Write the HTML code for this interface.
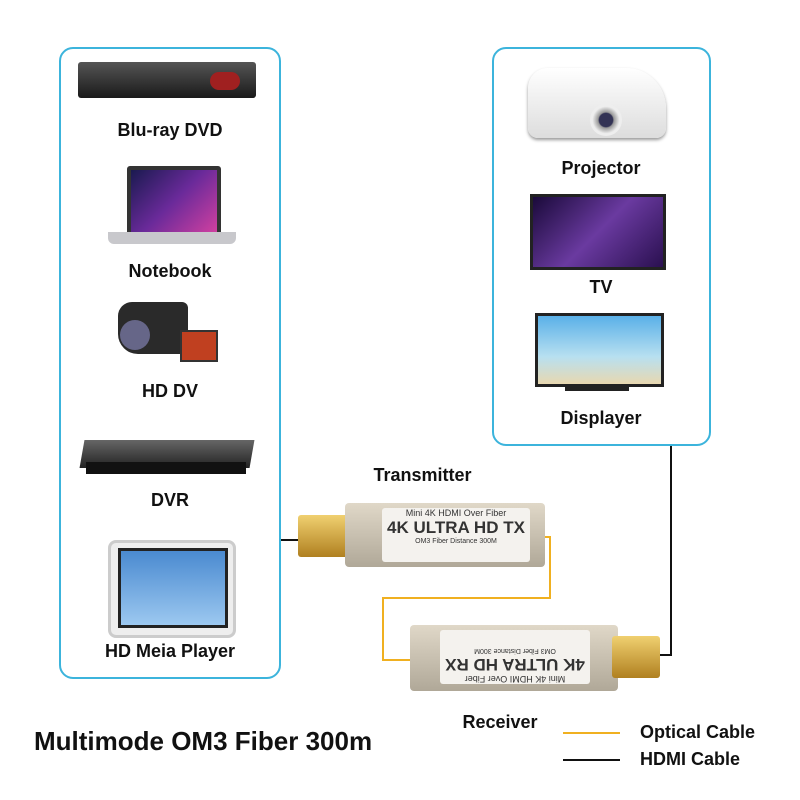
<!DOCTYPE html>
<html><head><meta charset="utf-8"><style>
body{margin:0;width:800px;height:800px;background:#fff;position:relative;overflow:hidden;font-family:"Liberation Sans",sans-serif}
.box{position:absolute;border:2.5px solid #3cb4dc;border-radius:14px;box-sizing:border-box}
.lb{position:absolute;font-size:18px;font-weight:bold;color:#111;text-align:center;white-space:nowrap}
.a{position:absolute}
</style></head><body>
<div class="box" style="left:59px;top:47px;width:222px;height:632px"></div>
<div class="box" style="left:492px;top:47px;width:219px;height:399px"></div>

<div class="a" style="left:78px;top:62px;width:178px;height:36px;background:linear-gradient(#555,#1a1a1a);border-radius:3px"></div>
<div class="a" style="left:210px;top:72px;width:30px;height:18px;background:#a02020;border-radius:9px"></div>
<div class="lb" style="left:60px;width:220px;top:120px">Blu-ray DVD</div>

<div class="a" style="left:127px;top:166px;width:86px;height:62px;background:linear-gradient(135deg,#1a1a50,#6a2a9a,#d040a0);border:4px solid #333;border-radius:3px"></div>
<div class="a" style="left:108px;top:232px;width:128px;height:12px;background:#c8c8cc;border-radius:0 0 6px 6px"></div>
<div class="lb" style="left:60px;width:220px;top:261px">Notebook</div>

<div class="a" style="left:118px;top:302px;width:70px;height:52px;background:#2a2a2a;border-radius:14px 6px 6px 20px"></div>
<div class="a" style="left:120px;top:320px;width:30px;height:30px;background:#668;border-radius:50%"></div>
<div class="a" style="left:180px;top:330px;width:34px;height:28px;background:#c04020;border:2px solid #333"></div>
<div class="lb" style="left:60px;width:220px;top:381px">HD DV</div>

<div class="a" style="left:82px;top:440px;width:170px;height:28px;background:linear-gradient(#666,#222);transform:skewX(-10deg)"></div>
<div class="a" style="left:86px;top:462px;width:160px;height:12px;background:#111"></div>
<div class="lb" style="left:60px;width:220px;top:490px">DVR</div>

<div class="a" style="left:108px;top:540px;width:122px;height:92px;background:#eee;border:3px solid #ccc;border-radius:8px"></div>
<div class="a" style="left:118px;top:548px;width:104px;height:74px;background:linear-gradient(#4a8ad0,#9cc8f0);border:3px solid #222"></div>
<div class="lb" style="left:60px;width:220px;top:641px">HD Meia Player</div>

<div class="a" style="left:528px;top:68px;width:138px;height:70px;background:linear-gradient(#fff,#ddd);border-radius:20px 40px 10px 10px;box-shadow:0 2px 3px #999"></div>
<div class="a" style="left:590px;top:104px;width:32px;height:32px;background:radial-gradient(#335 30%,#999 35%,#eee 60%);border-radius:50%"></div>
<div class="lb" style="left:493px;width:216px;top:158px">Projector</div>

<div class="a" style="left:530px;top:194px;width:130px;height:70px;background:linear-gradient(135deg,#1a0a3a,#6a3aa0,#2a1050);border:3px solid #222"></div>
<div class="lb" style="left:493px;width:216px;top:277px">TV</div>

<div class="a" style="left:535px;top:313px;width:123px;height:68px;background:linear-gradient(#5ab0e8,#b8e0f0 60%,#e8d8b0);border:3px solid #222"></div>
<div class="a" style="left:565px;top:385px;width:64px;height:6px;background:#222"></div>
<div class="lb" style="left:493px;width:216px;top:408px">Displayer</div>

<svg class="a" style="left:0;top:0" width="800" height="800">
<polyline points="281,540 300,540" stroke="#111" stroke-width="2" fill="none"/>
<polyline points="545,537 550,537 550,598 383,598 383,660 412,660" stroke="#f0b020" stroke-width="2" fill="none"/>
<polyline points="658,655 671,655 671,446" stroke="#111" stroke-width="2" fill="none"/>
<line x1="563" y1="733" x2="620" y2="733" stroke="#f0b020" stroke-width="2"/>
<line x1="563" y1="760" x2="620" y2="760" stroke="#111" stroke-width="2"/>
</svg>

<div class="lb" style="left:360px;width:125px;top:465px">Transmitter</div>
<div class="a" style="left:298px;top:515px;width:50px;height:42px;background:linear-gradient(#f0d070,#b08020);border-radius:3px"></div>
<div class="a" style="left:345px;top:503px;width:200px;height:64px;background:linear-gradient(#e0d8c8,#b0a898);border-radius:4px"></div>
<div class="a" style="left:382px;top:508px;width:148px;height:54px;background:#f4f2ee;border-radius:3px;font-size:9px;color:#333;text-align:center"><div>Mini 4K HDMI Over Fiber</div><div style="font-size:17px;font-weight:bold">4K ULTRA HD TX</div><div style="font-size:7px">OM3 Fiber Distance 300M</div></div>

<div class="a" style="left:410px;top:625px;width:208px;height:66px;background:linear-gradient(#e0d8c8,#b0a898);border-radius:4px"></div>
<div class="a" style="left:612px;top:636px;width:48px;height:42px;background:linear-gradient(#f0d070,#b08020);border-radius:3px"></div>
<div class="a" style="left:440px;top:630px;width:150px;height:54px;background:#f4f2ee;border-radius:3px;font-size:9px;color:#333;text-align:center;transform:rotate(180deg)"><div>Mini 4K HDMI Over Fiber</div><div style="font-size:17px;font-weight:bold">4K ULTRA HD RX</div><div style="font-size:7px">OM3 Fiber Distance 300M</div></div>
<div class="lb" style="left:450px;width:100px;top:712px">Receiver</div>

<div class="a" style="left:34px;top:726px;font-size:26px;font-weight:bold;color:#111;white-space:nowrap">Multimode OM3 Fiber 300m</div>
<div class="a" style="left:640px;top:722px;font-size:18px;font-weight:bold;color:#111">Optical Cable</div>
<div class="a" style="left:640px;top:749px;font-size:18px;font-weight:bold;color:#111">HDMI Cable</div>
</body></html>
